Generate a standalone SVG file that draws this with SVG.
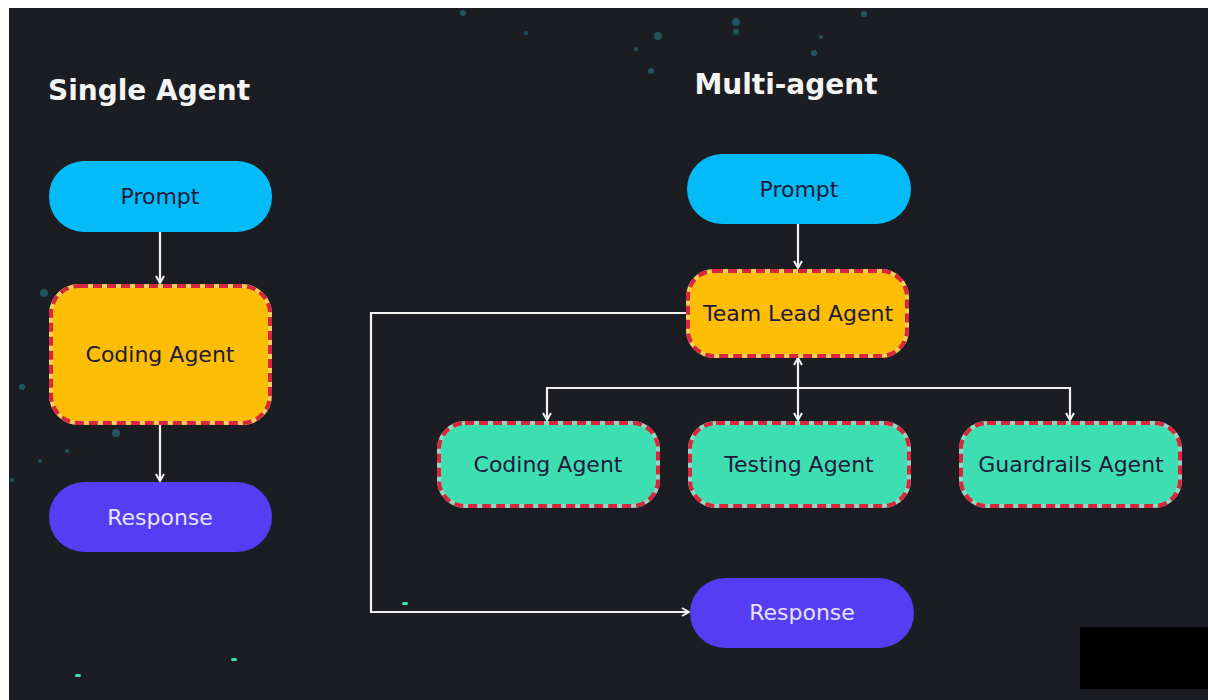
<svg xmlns="http://www.w3.org/2000/svg" width="1208" height="700" viewBox="0 0 1208 700">
<defs>
<style>
.title{font-family:"DejaVu Sans","Noto Sans",sans-serif;font-weight:bold;font-size:28px;fill:#f4f4f4}
.lbl{font-family:"DejaVu Sans","Open Sans",sans-serif;font-size:22px;text-anchor:middle;dominant-baseline:central}
.dark{fill:#1e1a3a}
.light{fill:#e6e3ff}
.prompt{fill:#03bcf7}
.resp{fill:#563cf2}
.lead{fill:#fdbd02}
.agent{fill:#3ddfb2}
.bdrY{fill:none;stroke:#f2cf5a;stroke-width:4}
.bdrG{fill:none;stroke:#8fd9c0;stroke-width:4}
.dash{fill:none;stroke:#d9263f;stroke-width:4;stroke-dasharray:9 5}
.conn{fill:none;stroke:#f2f2f2;stroke-width:2.2}
.dot{fill:#2aa7b8}
</style>
<marker id="ah" viewBox="0 0 10 10" refX="9" refY="5" markerWidth="10" markerHeight="10" orient="auto-start-reverse" markerUnits="userSpaceOnUse">
<path d="M2,1 L9,5 L2,9" fill="none" stroke="#f2f2f2" stroke-width="2"/>
</marker>
</defs>
<rect x="0" y="0" width="1208" height="700" fill="#ffffff"/>
<rect x="9" y="8" width="1199" height="692" fill="#1c1d22"/>
<g id="particles" opacity="0.4">
<circle class="dot" cx="463" cy="13" r="3"/>
<circle class="dot" cx="526" cy="33" r="2"/>
<circle class="dot" cx="658" cy="36" r="4"/>
<circle class="dot" cx="636" cy="49" r="2"/>
<circle class="dot" cx="651" cy="71" r="3"/>
<circle class="dot" cx="736" cy="22" r="4"/>
<circle class="dot" cx="736" cy="32" r="3"/>
<circle class="dot" cx="821" cy="37" r="2"/>
<circle class="dot" cx="814" cy="53" r="3"/>
<circle class="dot" cx="864" cy="14" r="3"/>
<circle class="dot" cx="44" cy="293" r="4"/>
<circle class="dot" cx="116" cy="433" r="4"/>
<circle class="dot" cx="67" cy="451" r="2"/>
<circle class="dot" cx="40" cy="461" r="2"/>
<circle class="dot" cx="22" cy="387" r="3"/>
<circle class="dot" cx="12" cy="480" r="2"/>
</g>
<rect x="402" y="602" width="6" height="3" rx="1.5" fill="#3ddfb2"/>
<rect x="75" y="674" width="6" height="3" rx="1.5" fill="#3ddfb2"/>
<rect x="231" y="658" width="6" height="3" rx="1.5" fill="#3ddfb2"/>
<rect x="1080" y="627" width="128" height="62" fill="#000000"/>

<text class="title" x="48" y="100">Single Agent</text>
<text class="title" x="786" y="94" text-anchor="middle">Multi-agent</text>

<g id="connectors">
<line class="conn" x1="160" y1="232" x2="160" y2="283" marker-end="url(#ah)"/>
<line class="conn" x1="160" y1="425" x2="160" y2="481" marker-end="url(#ah)"/>
<line class="conn" x1="798" y1="224" x2="798" y2="268" marker-end="url(#ah)"/>
<polyline class="conn" points="686,313 371,313 371,612 689,612" marker-end="url(#ah)"/>
<line class="conn" x1="798" y1="358" x2="798" y2="420" marker-start="url(#ah)" marker-end="url(#ah)"/>
<polyline class="conn" points="547,420 547,388 1070,388 1070,420" marker-start="url(#ah)" marker-end="url(#ah)"/>
</g>

<g id="s-prompt">
<rect class="prompt" x="49" y="161" width="223" height="71" rx="35"/>
<text class="lbl dark" x="160" y="196">Prompt</text>
</g>
<g id="s-coding">
<rect class="lead" x="51" y="286" width="219" height="137" rx="28"/>
<rect class="bdrY" x="51" y="286" width="219" height="137" rx="28"/>
<rect class="dash" x="51" y="286" width="219" height="137" rx="28"/>
<text class="lbl dark" x="160" y="354">Coding Agent</text>
</g>
<g id="s-response">
<rect class="resp" x="49" y="482" width="223" height="70" rx="35"/>
<text class="lbl light" x="160" y="517">Response</text>
</g>

<g id="m-prompt">
<rect class="prompt" x="687" y="154" width="224" height="70" rx="35"/>
<text class="lbl dark" x="799" y="189">Prompt</text>
</g>
<g id="m-lead">
<rect class="lead" x="688" y="271" width="219" height="85" rx="26"/>
<rect class="bdrY" x="688" y="271" width="219" height="85" rx="26"/>
<rect class="dash" x="688" y="271" width="219" height="85" rx="26"/>
<text class="lbl dark" x="798" y="313">Team Lead Agent</text>
</g>
<g id="m-coding">
<rect class="agent" x="439" y="423" width="219" height="83" rx="26"/>
<rect class="bdrG" x="439" y="423" width="219" height="83" rx="26"/>
<rect class="dash" x="439" y="423" width="219" height="83" rx="26"/>
<text class="lbl dark" x="548" y="464">Coding Agent</text>
</g>
<g id="m-testing">
<rect class="agent" x="690" y="423" width="219" height="83" rx="26"/>
<rect class="bdrG" x="690" y="423" width="219" height="83" rx="26"/>
<rect class="dash" x="690" y="423" width="219" height="83" rx="26"/>
<text class="lbl dark" x="799" y="464">Testing Agent</text>
</g>
<g id="m-guardrails">
<rect class="agent" x="961" y="423" width="219" height="83" rx="26"/>
<rect class="bdrG" x="961" y="423" width="219" height="83" rx="26"/>
<rect class="dash" x="961" y="423" width="219" height="83" rx="26"/>
<text class="lbl dark" x="1071" y="464">Guardrails Agent</text>
</g>
<g id="m-response">
<rect class="resp" x="690" y="578" width="224" height="70" rx="35"/>
<text class="lbl light" x="802" y="612">Response</text>
</g>
</svg>
